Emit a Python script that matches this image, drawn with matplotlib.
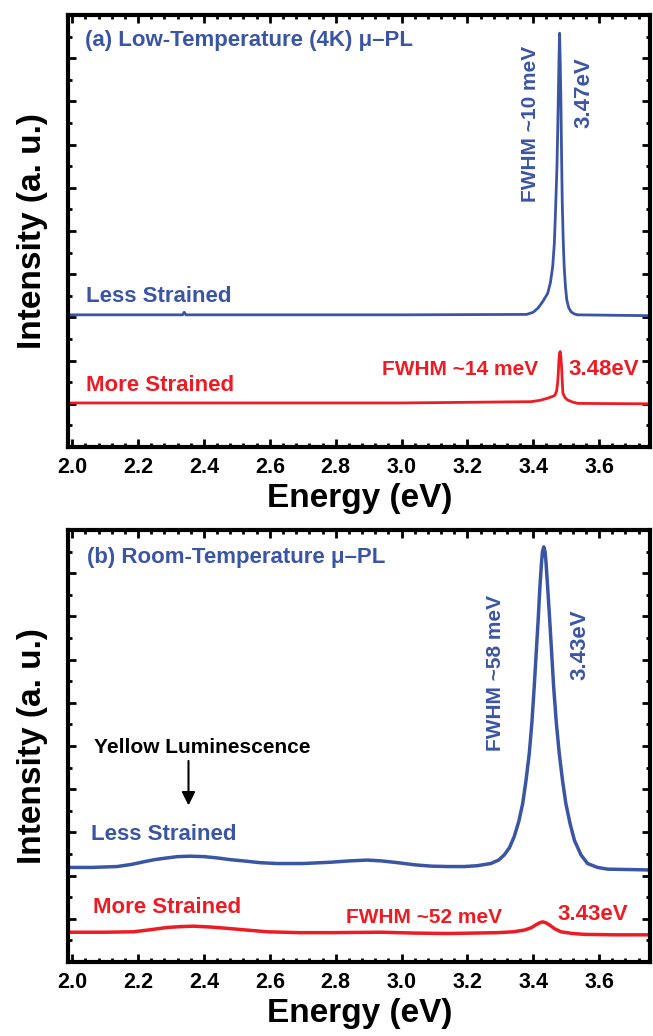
import matplotlib
matplotlib.use("Agg")
import matplotlib.pyplot as plt
from matplotlib.ticker import MultipleLocator, NullFormatter

plt.rcParams['font.family'] = ['Liberation Sans', 'DejaVu Sans']
plt.rcParams['font.weight'] = 'bold'

BLUE = '#3b55a5'
RED = '#ed1c24'

# (a) low temperature spectra
a_less_E = [1.988, 2.300, 2.335, 2.340, 2.345, 2.380, 3.000, 3.380, 3.400, 3.415, 3.430, 3.444,
            3.452, 3.459, 3.464, 3.467, 3.470, 3.472, 3.474, 3.476, 3.478, 3.480, 3.482, 3.484,
            3.486, 3.488, 3.491, 3.494, 3.498, 3.502, 3.508, 3.515, 3.525, 3.535, 3.758]
a_less_I = [3.06, 3.06, 3.06, 3.12, 3.06, 3.06, 3.06, 3.07, 3.12, 3.22, 3.38, 3.56,
            3.80, 4.17, 4.70, 5.32, 6.00, 6.48, 7.20, 8.03, 8.90, 9.58, 8.90, 8.03,
            6.80, 5.72, 4.80, 4.17, 3.70, 3.40, 3.22, 3.13, 3.08, 3.06, 3.04]
a_more_E = [1.988, 3.000, 3.393, 3.420, 3.444, 3.458, 3.466, 3.471, 3.474, 3.476, 3.478, 3.480,
            3.482, 3.484, 3.486, 3.488, 3.490, 3.496, 3.504, 3.520, 3.535, 3.758]
a_more_I = [1.02, 1.02, 1.05, 1.08, 1.13, 1.17, 1.20, 1.30, 1.48, 1.70, 2.01, 2.18,
            2.21, 2.08, 1.86, 1.55, 1.25, 1.15, 1.09, 1.04, 1.01, 1.00]

# (b) room temperature spectra
b_less_E = [1.989, 2.060, 2.136, 2.180, 2.217, 2.250, 2.288, 2.320, 2.359, 2.400, 2.440, 2.480,
            2.521, 2.570, 2.623, 2.700, 2.785, 2.840, 2.896, 2.940, 2.988, 3.040, 3.089, 3.140,
            3.190, 3.230, 3.271, 3.295, 3.312, 3.328, 3.342, 3.356, 3.368, 3.378, 3.388, 3.396,
            3.403, 3.409, 3.415, 3.420, 3.425, 3.428, 3.432, 3.436, 3.439, 3.444, 3.450, 3.456,
            3.462, 3.470, 3.479, 3.489, 3.499, 3.512, 3.525, 3.545, 3.565, 3.595, 3.626, 3.700,
            3.758]
b_less_I = [2.19, 2.19, 2.21, 2.26, 2.32, 2.37, 2.41, 2.44, 2.45, 2.44, 2.41, 2.37,
            2.34, 2.30, 2.28, 2.28, 2.31, 2.34, 2.36, 2.34, 2.30, 2.25, 2.22, 2.21,
            2.21, 2.23, 2.28, 2.36, 2.48, 2.65, 2.90, 3.25, 3.67, 4.20, 4.83, 5.55,
            6.37, 7.15, 7.92, 8.65, 9.23, 9.50, 9.61, 9.50, 9.23, 8.65, 7.92, 7.15,
            6.37, 5.55, 4.83, 4.20, 3.67, 3.20, 2.82, 2.48, 2.28, 2.19, 2.15, 2.14,
            2.13]
b_more_E = [1.989, 2.100, 2.186, 2.240, 2.288, 2.330, 2.369, 2.420, 2.470, 2.530, 2.592, 2.690,
            2.785, 2.937, 3.040, 3.140, 3.220, 3.292, 3.340, 3.373, 3.393, 3.408, 3.420, 3.429,
            3.438, 3.449, 3.465, 3.484, 3.520, 3.555, 3.650, 3.758]
b_more_I = [0.69, 0.69, 0.70, 0.75, 0.80, 0.82, 0.83, 0.81, 0.78, 0.74, 0.70, 0.68,
            0.68, 0.69, 0.67, 0.66, 0.67, 0.68, 0.70, 0.74, 0.79, 0.86, 0.91, 0.93,
            0.91, 0.86, 0.77, 0.70, 0.66, 0.64, 0.63, 0.63]

fig = plt.figure(figsize=(6.53, 10.36), dpi=100)
ax_a = fig.add_axes([0.1041, 0.5685, 0.892, 0.417])
ax_b = fig.add_axes([0.1041, 0.0714, 0.892, 0.417])


def style(ax):
    ax.set_xlim(1.987, 3.756)
    ax.set_ylim(0, 10)
    ax.xaxis.set_major_locator(MultipleLocator(0.2))
    ax.xaxis.set_minor_locator(MultipleLocator(0.04))
    ax.yaxis.set_major_locator(MultipleLocator(1))
    ax.yaxis.set_minor_locator(MultipleLocator(0.5))
    ax.yaxis.set_major_formatter(NullFormatter())
    ax.tick_params(which='both', direction='in', top=True, right=True, width=2)
    ax.tick_params(which='major', length=5.5, labelsize=15.5, pad=7)
    ax.tick_params(which='minor', length=3)
    for s in ax.spines.values():
        s.set_linewidth(3)
    for lab in ax.get_xticklabels():
        lab.set_fontweight('bold')
    ax.set_xlabel('Energy (eV)', fontsize=24, fontweight='bold', labelpad=4)
    ax.set_ylabel('Intensity (a. u.)', fontsize=24, fontweight='bold')
    ax.yaxis.set_label_coords(-0.035, 0.5)


# panel (a)
ax_a.plot(a_less_E, a_less_I, color=BLUE, lw=2)
ax_a.plot(a_more_E, a_more_I, color=RED, lw=2)
style(ax_a)
ax_a.text(2.040, 9.28, '(a) Low-Temperature (4K) μ–PL', color=BLUE, fontsize=16)
ax_a.text(2.043, 3.36, 'Less Strained', color=BLUE, fontsize=16)
ax_a.text(2.041, 1.30, 'More Strained', color=RED, fontsize=16)
ax_a.text(3.391, 7.49, 'FWHM ~10 meV', color=BLUE, fontsize=15, rotation=90,
          ha='center', va='center')
ax_a.text(3.554, 8.21, '3.47eV', color=BLUE, fontsize=16, rotation=90,
          ha='center', va='center')
ax_a.text(3.415, 1.67, 'FWHM ~14 meV', color=RED, fontsize=15, ha='right')
ax_a.text(3.506, 1.67, '3.48eV', color=RED, fontsize=16)

# panel (b)
ax_b.plot(b_less_E, b_less_I, color=BLUE, lw=2.5)
ax_b.plot(b_more_E, b_more_I, color=RED, lw=2.5)
style(ax_b)
ax_b.text(2.044, 9.24, '(b) Room-Temperature μ–PL', color=BLUE, fontsize=16)
ax_b.text(2.065, 4.84, 'Yellow Luminescence', color='black', fontsize=15)
ax_b.annotate('', xy=(2.353, 3.56), xytext=(2.353, 4.72),
              arrowprops=dict(arrowstyle='-|>', color='black', lw=1.5, mutation_scale=20))
ax_b.text(2.056, 2.82, 'Less Strained', color=BLUE, fontsize=16)
ax_b.text(2.062, 1.13, 'More Strained', color=RED, fontsize=16)
ax_b.text(3.285, 6.70, 'FWHM ~58 meV', color=BLUE, fontsize=15, rotation=90,
          ha='center', va='center')
ax_b.text(3.542, 7.34, '3.43eV', color=BLUE, fontsize=16, rotation=90,
          ha='center', va='center')
ax_b.text(3.305, 0.90, 'FWHM ~52 meV', color=RED, fontsize=15, ha='right')
ax_b.text(3.475, 0.97, '3.43eV', color=RED, fontsize=16)

fig.savefig('out.png', dpi=100)
